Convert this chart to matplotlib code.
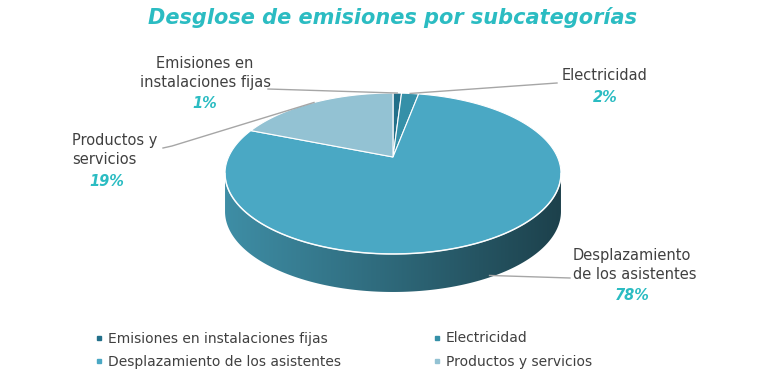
import numpy as np
import matplotlib.pyplot as plt
from matplotlib.colors import LinearSegmentedColormap, to_rgb
from matplotlib.patches import Polygon
from matplotlib.lines import Line2D

# data
names = ['Emisiones en instalaciones fijas', 'Electricidad',
         'Desplazamiento de los asistentes', 'Productos y servicios']
label_names = ['Emisiones en\ninstalaciones fijas', 'Electricidad',
               'Desplazamiento\nde los asistentes', 'Productos y\nservicios']
values = [1, 2, 78, 19]
colors = ['#22708a', '#3590a8', '#4aa8c4', '#93c2d3']

TXT = '#404040'
TEAL = '#2bbcc2'
W, H = 770, 388

fig = plt.figure(figsize=(W / 100, H / 100), dpi=100)
ax = fig.add_axes([0, 0, 1, 1])
ax.axis('off')

# tilted pie seen in perspective (pixel units, y up)
cx, cy = 393, H - 157      # apex
rx, c, p = 164.4, 77.1, 0.205
depth = 38


def proj(x, y):
    s = 1 / (1 + p * y)
    return cx + rx * x * s, cy + c * y * s


wedges, _ = ax.pie(values, colors=colors, startangle=90, counterclock=False,
                   wedgeprops=dict(edgecolor='white', linewidth=0.8))

# replace flat wedges with projected ones
for w in wedges:
    t = np.radians(np.linspace(w.theta1, w.theta2, 400))
    x = np.r_[w.center[0], w.center[0] + w.r * np.cos(t)]
    y = np.r_[w.center[1], w.center[1] + w.r * np.sin(t)]
    X, Y = proj(x, y)
    ax.add_patch(Polygon(np.c_[X, Y], closed=True, facecolor=w.get_facecolor(),
                         edgecolor='white', lw=0.8, zorder=3))
    w.set_visible(False)

# side wall of the visible front, shaded left -> right
a0 = np.degrees(np.arcsin(p))
front = (180 + a0, 360 - a0)
grad = np.linspace(0, 1, 256).reshape(1, -1)
for w in wedges:
    base = np.array(to_rgb(w.get_facecolor()))
    cmap = LinearSegmentedColormap.from_list('s', [base * 0.85, base * 0.62, base * 0.38])
    for k in (-360, 0):
        a, b = max(w.theta1, front[0] + k), min(w.theta2, front[1] + k)
        if b <= a:
            continue
        t = np.radians(np.linspace(a, b, 300))
        X, Y = proj(np.cos(t), np.sin(t))
        pts = np.concatenate([np.c_[X, Y], np.c_[X[::-1], Y[::-1] - depth]])
        side = Polygon(pts, closed=True, facecolor='none', edgecolor='none')
        ax.add_patch(side)
        im = ax.imshow(grad, extent=(cx - rx * 1.05, cx + rx * 1.05,
                                     Y.min() - depth - 2, Y.max() + 2),
                       cmap=cmap, aspect='auto', zorder=2)
        im.set_clip_path(side)

t = np.radians(np.linspace(*front, 300))
X, Y = proj(np.cos(t), np.sin(t))
ax.plot(X, Y, color='white', lw=1.1, alpha=0.8, zorder=4)

ax.set_aspect('auto')
ax.set_xlim(0, W)
ax.set_ylim(0, H)


def anchor(w, drop=0.0):
    m = np.radians((w.theta1 + w.theta2) / 2)
    x, y = proj(np.cos(m), np.sin(m))
    return x, y - drop


# title
ax.text(W / 2 + 8, H - 17, 'Desglose de emisiones por subcategorías',
        ha='center', va='center', fontsize=15, fontweight='bold',
        style='italic', color=TEAL)

# data labels: name block, percent, leader line start (pixels from top)
lab = [
    dict(xy=(205, 73), ha='center', pct=(205, 104), line=[(268, 89)]),
    dict(xy=(562, 75), ha='left', pct=(605, 97), line=[(557, 83)]),
    dict(xy=(573, 265), ha='left', pct=(632, 295), line=[(570, 278)]),
    dict(xy=(72, 150), ha='left', pct=(107, 181), line=[(163, 148), (172, 146)]),
]
for i, w in enumerate(wedges):
    d = lab[i]
    ax.text(d['xy'][0], H - d['xy'][1], label_names[i], ha=d['ha'],
            va='center', fontsize=10.5, color=TXT, linespacing=1.3)
    ax.text(d['pct'][0], H - d['pct'][1], f'{values[i]}%', ha='center',
            va='center', fontsize=10.5, fontweight='bold', style='italic',
            color=TEAL)
    pts = [(x, H - y) for x, y in d['line']]
    pts.append(anchor(w, depth * 0.95 if i == 2 else 0))
    ax.plot([q[0] for q in pts], [q[1] for q in pts], color='#a6a6a6',
            lw=1, zorder=5)

# legend
order = [0, 2, 1, 3]
handles = [Line2D([], [], marker='s', ls='', color=colors[i], markersize=3.5)
           for i in order]
fig.legend(handles, [names[i] for i in order], ncol=2, loc='upper left',
           bbox_to_anchor=(82 / W, 1 - 319 / H), frameon=False, fontsize=10,
           handlelength=0.6, handletextpad=0.35, columnspacing=6.6,
           labelspacing=0.65, labelcolor=TXT)

fig.savefig('out.png', dpi=100)
